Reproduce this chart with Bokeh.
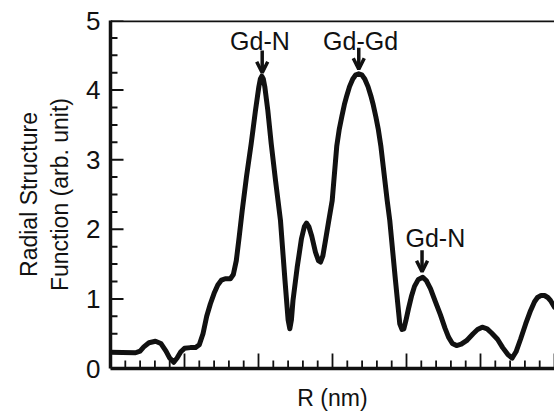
from bokeh.plotting import figure
from bokeh.models import Range1d, Span, Arrow, OpenHead, Label, FixedTicker
from bokeh.embed import file_html
from bokeh.resources import INLINE
import numpy as np

# Radial distance (arbitrary axis units, no tick labels) and RSF values
r = [0.0, 0.16, 0.338, 0.40, 0.45, 0.52, 0.608, 0.68, 0.75, 0.80, 0.855, 0.90, 0.95,
     1.0, 1.08, 1.15, 1.20, 1.25, 1.30, 1.35, 1.40, 1.45, 1.50, 1.55, 1.62, 1.66, 1.70,
     1.74, 1.78, 1.838, 1.901, 1.959, 2.005, 2.025, 2.045, 2.065, 2.085, 2.126, 2.172,
     2.23, 2.297, 2.358, 2.40, 2.423, 2.445, 2.466, 2.523, 2.581, 2.62, 2.649, 2.68,
     2.72, 2.77, 2.81, 2.838, 2.87, 2.905, 2.95, 2.996, 3.058, 3.09, 3.126, 3.16, 3.193,
     3.23, 3.274, 3.315, 3.355, 3.395, 3.436, 3.48, 3.518, 3.55, 3.585, 3.62, 3.653,
     3.739, 3.774, 3.851, 3.909, 3.94, 3.964, 3.99, 4.027, 4.07, 4.108, 4.16, 4.22,
     4.27, 4.324, 4.39, 4.459, 4.52, 4.568, 4.62, 4.676, 4.74, 4.811, 4.90, 4.96, 5.023,
     5.09, 5.15, 5.23, 5.30, 5.37, 5.428, 5.48, 5.541, 5.61, 5.676, 5.73, 5.77, 5.82,
     5.865, 5.91, 5.946, 6.0]
rsf = [0.234, 0.23, 0.226, 0.25, 0.31, 0.37, 0.392, 0.36, 0.25, 0.15, 0.09, 0.15, 0.24,
       0.29, 0.30, 0.30, 0.34, 0.50, 0.75, 0.93, 1.08, 1.20, 1.27, 1.29, 1.29, 1.35, 1.55,
       1.90, 2.27, 2.759, 3.229, 3.707, 4.05, 4.16, 4.20, 4.16, 4.05, 3.707, 3.229,
       2.70, 2.126, 1.264, 0.70, 0.57, 0.70, 0.977, 1.455, 1.868, 2.04, 2.09, 2.04,
       1.90, 1.67, 1.55, 1.53, 1.62, 1.839, 2.126, 2.414, 3.20, 3.43, 3.62, 3.79, 3.92,
       4.05, 4.16, 4.22, 4.234, 4.22, 4.16, 4.05, 3.92, 3.79, 3.62, 3.43, 3.20,
       2.414, 2.126, 1.264, 0.642, 0.56, 0.57, 0.68, 0.86, 1.05, 1.18, 1.28, 1.312,
       1.26, 1.149, 0.96, 0.77, 0.58, 0.45, 0.36, 0.33, 0.35, 0.40, 0.50, 0.56, 0.593,
       0.57, 0.51, 0.42, 0.30, 0.20, 0.15, 0.24, 0.42, 0.64, 0.83, 0.96, 1.02, 1.05,
       1.049, 1.02, 0.977, 0.881]

# Tick layout
y_major = [0, 1, 2, 3, 4, 5]
y_minor_step = 0.25
x_major = [0, 1, 2, 3, 4, 5, 6]
x_minor_step = 0.2

# Peak annotations
ann_text = ["Gd-N", "Gd-Gd", "Gd-N"]
ann_x = [2.02, 3.38, 4.39]
ann_y = [4.70, 4.70, 1.87]
arrow_x = [2.05, 3.355, 4.21]
arrow_y0 = [4.57, 4.61, 1.70]
arrow_y1 = [4.25, 4.30, 1.39]

FONT = "Liberation Sans"
INK = "#111111"

XMIN, XMAX, YMIN, YMAX = 0, 6, 0, 5
W, H = 554, 420
BL, BR, BT, BB = 110, 0, 20, 52

p = figure(width=W, height=H, output_backend="svg", toolbar_location=None,
           x_range=Range1d(XMIN, XMAX), y_range=Range1d(YMIN, YMAX),
           min_border_left=BL, min_border_right=BR, min_border_top=BT, min_border_bottom=BB)
p.outline_line_color = None
p.grid.visible = False
p.background_fill_color = None
p.border_fill_color = "white"

# inward ticks drawn as short segments (lengths converted from pixels to data units)
px_x = (XMAX - XMIN) / (W - BL - BR)
px_y = (YMAX - YMIN) / (H - BT - BB)
y_minor = [v for v in np.arange(YMIN, YMAX + 1e-9, y_minor_step) if v not in y_major]
x_minor = [round(v, 3) for v in np.arange(XMIN, XMAX + 1e-9, x_minor_step)
           if min(abs(v - m) for m in x_major) > 1e-6]
p.segment(x0=[XMIN] * len(y_major), x1=[XMIN + 13 * px_x] * len(y_major),
          y0=y_major, y1=y_major, line_color=INK, line_width=2)
p.segment(x0=[XMIN] * len(y_minor), x1=[XMIN + 7 * px_x] * len(y_minor),
          y0=y_minor, y1=y_minor, line_color=INK, line_width=2)
p.segment(x0=x_major, x1=x_major, y0=[YMIN] * len(x_major),
          y1=[YMIN + 15 * px_y] * len(x_major), line_color=INK, line_width=1.8)
p.segment(x0=x_minor, x1=x_minor, y0=[YMIN] * len(x_minor),
          y1=[YMIN + 8 * px_y] * len(x_minor), line_color=INK, line_width=1.8)

p.line(r, rsf, line_width=5, line_color=INK, line_join="round", line_cap="round")

# axes
p.yaxis.ticker = FixedTicker(ticks=y_major)
p.xaxis.ticker = FixedTicker(ticks=x_major)
for ax in (p.xaxis[0], p.yaxis[0]):
    ax.axis_line_width = 3.5
    ax.axis_line_color = INK
    ax.major_tick_line_color = None
    ax.minor_tick_line_color = None
    ax.major_tick_out = 0
    ax.minor_tick_out = 0
    ax.major_tick_in = 0
    ax.minor_tick_in = 0
    ax.axis_label_text_font = FONT
    ax.axis_label_text_font_style = "normal"
    ax.axis_label_text_color = INK
    ax.major_label_text_font = FONT
    ax.major_label_text_color = INK

p.yaxis.major_label_text_font_size = "26px"
p.yaxis.major_label_standoff = 10
p.xaxis.major_label_text_font_size = "1px"
p.xaxis.major_label_text_color = None
p.xaxis.major_label_standoff = 0
p.xaxis.axis_label = "R (nm)"
p.xaxis.axis_label_text_font_size = "23px"
p.xaxis.axis_label_standoff = 16
p.yaxis.axis_label = "Radial Structure\nFunction (arb. unit)"
p.yaxis.axis_label_text_font_size = "23px"
p.yaxis.axis_label_standoff = 10

# top border
p.add_layout(Span(location=YMAX, dimension="width", line_color=INK, line_width=3.5))

for t, x, y in zip(ann_text, ann_x, ann_y):
    p.add_layout(Label(x=x, y=y, text=t, text_font=FONT, text_font_size="25px",
                       text_align="center", text_baseline="alphabetic", text_color=INK))
for x, y0, y1 in zip(arrow_x, arrow_y0, arrow_y1):
    p.add_layout(Arrow(end=OpenHead(size=11, line_width=3.5, line_color=INK),
                       x_start=x, y_start=y0, x_end=x, y_end=y1,
                       line_width=3.5, line_color=INK))

open("out.html", "w").write(file_html(p, INLINE))
